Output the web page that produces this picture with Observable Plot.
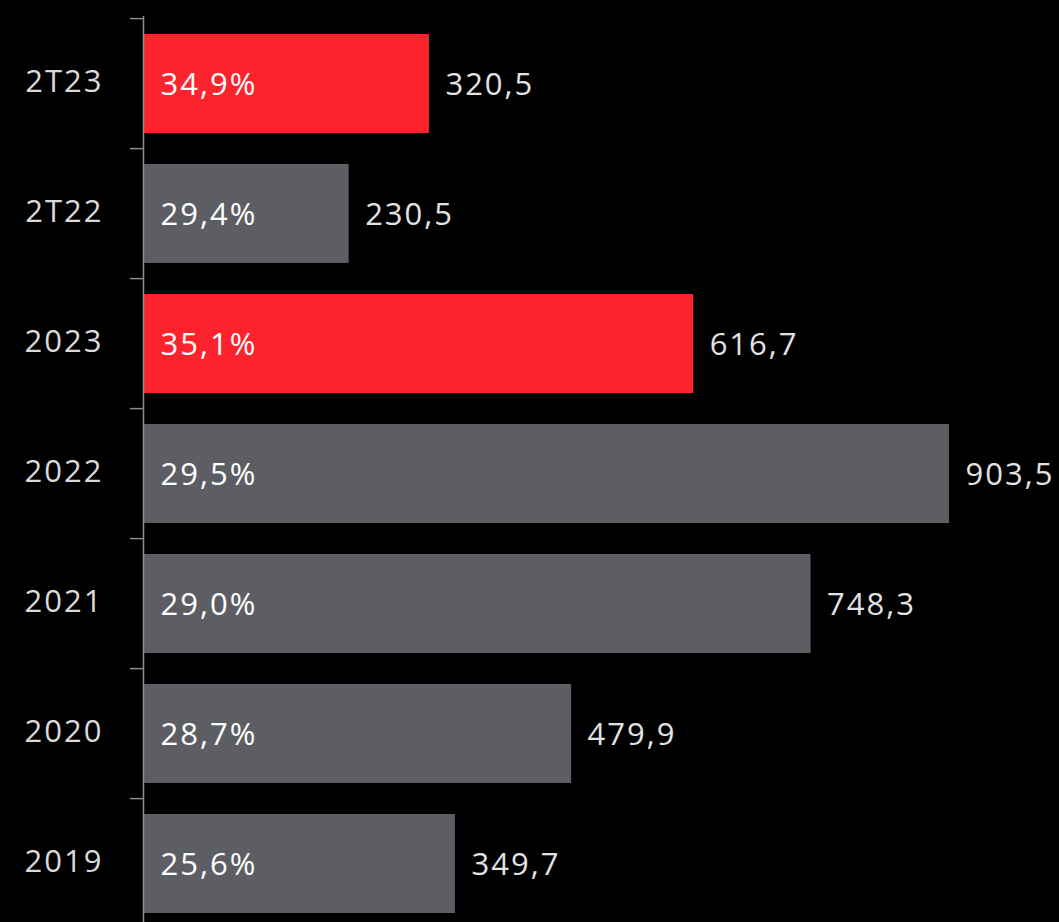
<!DOCTYPE html>
<html>
<head>
<meta charset="utf-8">
<script src="https://cdn.jsdelivr.net/npm/d3@7"></script>
<script src="https://cdn.jsdelivr.net/npm/@observablehq/plot@0.6"></script>
<style>
  html, body { margin: 0; padding: 0; background: #000; overflow: hidden; }
  #chart text { letter-spacing: 2px; }
</style>
</head>
<body>
<div id="chart"></div>
<script>
const categories = ["2T23", "2T22", "2023", "2022", "2021", "2020", "2019"];
const values = [320.5, 230.5, 616.7, 903.5, 748.3, 479.9, 349.7];
const shares = [34.9, 29.4, 35.1, 29.5, 29.0, 28.7, 25.6];
const highlighted = ["2T23", "2023"];

const data = categories.map((c, i) => ({ cat: c, value: values[i], share: shares[i] }));
const comma = v => v.toFixed(1).replace(".", ",");

const RED = "#FC232D";
const GRAY = "#5D5E63";
const FONT = "'Open Sans', sans-serif";

const chart = Plot.plot({
  width: 1059,
  height: 922,
  marginLeft: 143,
  marginRight: 110,
  marginTop: 16,
  marginBottom: -9,
  style: { background: "#000", fontFamily: FONT, overflow: "visible" },
  x: { domain: [0, 903.5], axis: null },
  y: { domain: categories, paddingInner: 0.235, paddingOuter: 0.12, axis: null, label: null },
  color: { type: "identity" },
  marks: [
    Plot.barX(data, {
      x: "value",
      y: "cat",
      fill: d => highlighted.includes(d.cat) ? RED : GRAY
    }),
    Plot.ruleX([0], { stroke: "#8c8c8c", strokeWidth: 1.5 }),
    Plot.axisY({ tickSize: 13, tickFormat: () => "", dy: -65.4, stroke: "#8c8c8c", strokeWidth: 1.5, label: null }),
    Plot.axisY({ tickSize: 0, tickPadding: 40, fontSize: 31, fill: "#D9D9D9", label: null, dy: -2 }),
    Plot.text(data, {
      x: 0, y: "cat", text: d => comma(d.share) + "%",
      dx: 17, dy: 1, textAnchor: "start", fill: "#ffffff", fontSize: 31
    }),
    Plot.text(data, {
      x: "value", y: "cat", text: d => comma(d.value),
      dx: 16, dy: 1, textAnchor: "start", fill: "#E2E2E2", fontSize: 31
    })
  ]
});
document.getElementById("chart").appendChild(chart);
</script>
</body>
</html>
